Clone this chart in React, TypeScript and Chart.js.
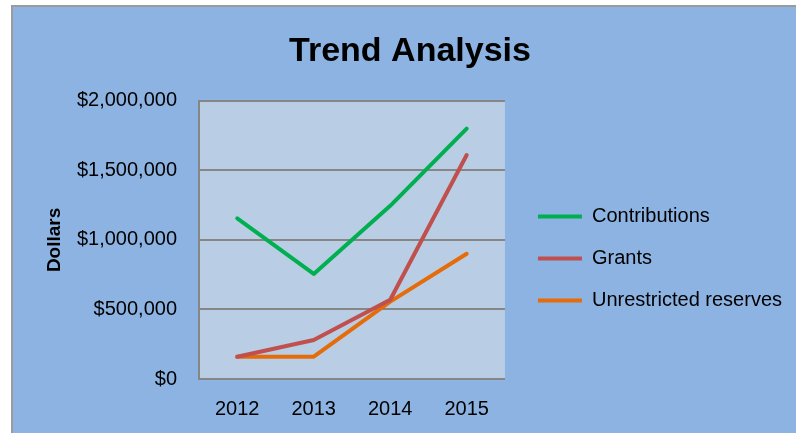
import React, { useEffect, useRef } from "react";
import { Chart, registerables } from "chart.js";

Chart.register(...registerables);

const years = ["2012", "2013", "2014", "2015"];
const contributions = [1155000, 755000, 1245000, 1800000];
const grants = [160000, 280000, 570000, 1610000];
const unrestrictedReserves = [160000, 160000, 556000, 900000];

const FONT = "'Liberation Sans', Arial, sans-serif";

const plotBg = {
  id: "plotBg",
  beforeDraw(chart: any) {
    const { ctx, chartArea } = chart;
    ctx.save();
    ctx.fillStyle = "#B9CDE5";
    ctx.fillRect(chartArea.left, chartArea.top, chartArea.right - chartArea.left, chartArea.bottom - chartArea.top);
    ctx.restore();
  },
};

export default function App() {
  const ref = useRef<HTMLCanvasElement>(null);
  useEffect(() => {
    const chart = new Chart(ref.current!, {
      type: "line",
      data: {
        labels: years,
        datasets: [
          { label: "Contributions", data: contributions, borderColor: "#00B050", backgroundColor: "#00B050" },
          { label: "Grants", data: grants, borderColor: "#C0504D", backgroundColor: "#C0504D" },
          { label: "Unrestricted reserves", data: unrestrictedReserves, borderColor: "#E46C0A", backgroundColor: "#E46C0A" },
        ],
      },
      options: {
        responsive: false,
        animation: false,
        layout: { padding: { left: 28, top: 31, bottom: 12, right: 4 } },
        elements: {
          line: { borderWidth: 4, tension: 0, borderCapStyle: "round", borderJoinStyle: "round" },
          point: { radius: 0, hoverRadius: 0 },
        },
        plugins: {
          title: {
            display: true,
            text: "Trend Analysis",
            color: "#000",
            font: { family: FONT, size: 34, weight: "bold", lineHeight: 1.2 },
            padding: { top: 0, bottom: 29 },
          },
          legend: {
            position: "right",
            maxWidth: 400,
            title: { display: true, text: "", font: { size: 10, lineHeight: 1 }, padding: { top: 55, bottom: 0 } },
            labels: {
              color: "#000",
              font: { family: FONT, size: 20 },
              boxWidth: 44,
              boxHeight: 4,
              padding: 22,
              generateLabels: (c: any) =>
                (Chart.defaults.plugins.legend.labels.generateLabels as any)(c).map((l: any) => ({ ...l, lineWidth: 0 })),
            },
          },
          tooltip: { enabled: false },
        },
        scales: {
          x: {
            offset: true,
            grid: { display: false, drawTicks: false },
            border: { display: true, color: "#868686", width: 2 },
            ticks: { color: "#000", font: { family: FONT, size: 20 }, padding: 18 },
            afterFit: (s: any) => {
              s.height = 42;
            },
          },
          y: {
            min: 0,
            max: 2000000,
            grid: { color: "#868686", lineWidth: 2, drawTicks: false },
            border: { display: true, color: "#868686", width: 2 },
            ticks: {
              stepSize: 500000,
              color: "#000",
              font: { family: FONT, size: 20 },
              padding: 22,
              callback: (v: any) => "$" + Number(v).toLocaleString("en-US"),
            },
            title: {
              display: true,
              text: "Dollars",
              color: "#000",
              font: { family: FONT, size: 19, weight: "bold", lineHeight: 1.2 },
              padding: { top: 15, bottom: 0 },
            },
            afterFit: (s: any) => {
              s.width = 171;
            },
          },
          gap: {
            position: "right",
            display: true,
            grid: { display: false, drawTicks: false },
            border: { display: false },
            ticks: { display: false },
            afterFit: (s: any) => {
              s.width = 11;
            },
          },
        },
      },
      plugins: [plotBg],
    });
    return () => chart.destroy();
  }, []);

  return (
    <div style={{ position: "fixed", left: 0, top: 0, width: 796, height: 433, background: "#fff" }}>
      <div
        style={{
          position: "absolute",
          left: 11,
          top: 5,
          right: 0,
          bottom: 0,
          background: "#8DB3E2",
          borderTop: "2px solid #9B9B9B",
          borderLeft: "2px solid #9B9B9B",
        }}
      />
      <canvas ref={ref} width={796} height={433} style={{ position: "absolute", left: 0, top: 0, width: 796, height: 433 }} />
    </div>
  );
}
